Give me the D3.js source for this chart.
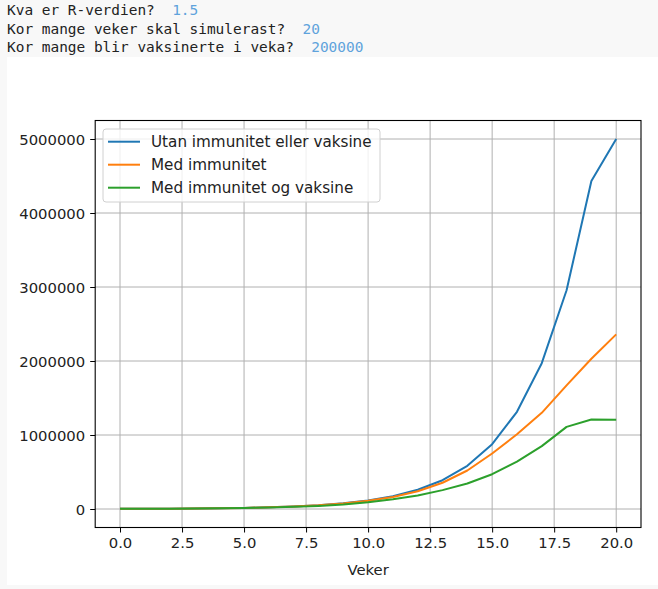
<!DOCTYPE html>
<html>
<head>
<meta charset="utf-8">
<script src="https://cdn.jsdelivr.net/npm/d3@7"></script>
<style>
  body { margin: 0; background: #f8f8f8; }
  svg { display: block; }
  .tick text { font-family: "DejaVu Sans", sans-serif; font-size: 14.8px; fill: #222; }
</style>
</head>
<body>
<svg width="658" height="589"></svg>
<script>
// console prompts shown above the plot
const prompts = ['Kva er R-verdien?', 'Kor mange veker skal simulerast?', 'Kor mange blir vaksinerte i veka?'];
const answers = ['1.5', '20', '200000'];

const weeks = [0,1,2,3,4,5,6,7,8,9,10,11,12,13,14,15,16,17,18,19,20];
const utan = [2000,3000,4500,6750,10100,15200,22800,34200,51300,76900,115300,173000,259500,389200,583900,875800,1313700,1970500,2955800,4433700,5000000];
const medImm = [2000,3000,4500,6700,10000,15000,22500,33500,50000,74000,110000,163000,240000,355000,520000,750000,1010000,1300000,1670000,2030000,2360000];
const medVaks = [2000,3000,4400,6500,9500,14000,20000,29000,42000,61000,92000,132000,182000,255000,345000,470000,640000,850000,1110000,1210000,1205000];

const seriesNames = ['Utan immunitet eller vaksine', 'Med immunitet', 'Med immunitet og vaksine'];
const colors = ['#1f77b4', '#ff7f0e', '#2ca02c'];
const yTicks = [0, 1000000, 2000000, 3000000, 4000000, 5000000];
const xTicks = [0, 2.5, 5, 7.5, 10, 12.5, 15, 17.5, 20];

const svg = d3.select('svg');
const [L, R, T, B] = [95.2, 641, 120.5, 527.5];

// backgrounds: console band, figure area
svg.append('rect').attr('x', 0).attr('y', 0).attr('width', 658).attr('height', 589).attr('fill', '#f8f8f8');
svg.append('rect').attr('x', 7).attr('y', 57).attr('width', 651).attr('height', 528).attr('fill', '#fff');

prompts.forEach((p, i) => {
    const t = svg.append('text')
        .attr('x', 7).attr('y', 15 + i * 18.5)
        .style('font-family', '"DejaVu Sans Mono", monospace')
        .style('font-size', '14.45px')
        .attr('fill', '#222')
        .attr('xml:space', 'preserve');
    t.append('tspan').text(p + '  ');
    t.append('tspan').attr('fill', '#5fa3dc').text(answers[i]);
});

const x = d3.scaleLinear().domain([-1, 21]).range([L, R]);
const y = d3.scaleLinear().domain([-250000, 5250000]).range([B, T]);

// grid
svg.append('g')
    .selectAll('line.gx').data(xTicks).enter().append('line')
    .attr('x1', d => x(d)).attr('x2', d => x(d)).attr('y1', T).attr('y2', B)
    .attr('stroke', '#b0b0b0').attr('stroke-width', 1);
svg.append('g')
    .selectAll('line.gy').data(yTicks).enter().append('line')
    .attr('y1', d => y(d)).attr('y2', d => y(d)).attr('x1', L).attr('x2', R)
    .attr('stroke', '#b0b0b0').attr('stroke-width', 1);

const line = d3.line().x(d => x(d[0])).y(d => y(d[1]));
[utan, medImm, medVaks].forEach((s, i) => {
    svg.append('path')
        .datum(weeks.map((w, j) => [w, s[j]]))
        .attr('d', line)
        .attr('fill', 'none')
        .attr('stroke', colors[i])
        .attr('stroke-width', 2)
        .attr('stroke-linejoin', 'round');
});

// frame
svg.append('rect').attr('x', L).attr('y', T).attr('width', R - L).attr('height', B - T)
    .attr('fill', 'none').attr('stroke', '#000').attr('stroke-width', 1.1);

const xAxis = d3.axisBottom(x).tickValues(xTicks).tickFormat(d3.format('.1f')).tickSize(5).tickPadding(5);
const yAxis = d3.axisLeft(y).tickValues(yTicks).tickFormat(d3.format('d')).tickSize(5).tickPadding(5);

svg.append('g').attr('transform', `translate(0, ${B})`).call(xAxis)
    .call(g => g.select('.domain').remove())
    .call(g => g.selectAll('.tick line').attr('stroke', '#000'));
svg.append('g').attr('transform', `translate(${L}, 0)`).call(yAxis)
    .call(g => g.select('.domain').remove())
    .call(g => g.selectAll('.tick line').attr('stroke', '#000'))
    .call(g => g.selectAll('.tick text').attr('dy', '0.35em'));

svg.append('text')
    .attr('x', (L + R) / 2).attr('y', 575)
    .text('Veker')
    .style('text-anchor', 'middle')
    .style('font-family', '"DejaVu Sans", sans-serif')
    .style('font-size', '14.8px')
    .attr('fill', '#222');

// legend
const lg = svg.append('g').attr('transform', 'translate(103, 129)');
lg.append('rect').attr('width', 277).attr('height', 73).attr('rx', 3)
    .attr('fill', '#fff').attr('fill-opacity', 0.8).attr('stroke', '#d0d0d0');
seriesNames.forEach((n, i) => {
    const yy = 12.7 + i * 23;
    lg.append('line').attr('x1', 5).attr('x2', 37).attr('y1', yy).attr('y2', yy)
        .attr('stroke', colors[i]).attr('stroke-width', 2);
    lg.append('text').attr('x', 48).attr('y', yy).attr('dy', '0.35em')
        .text(n)
        .style('font-family', '"DejaVu Sans", sans-serif')
        .style('font-size', '15.2px')
        .attr('fill', '#222');
});
</script>
</body>
</html>
